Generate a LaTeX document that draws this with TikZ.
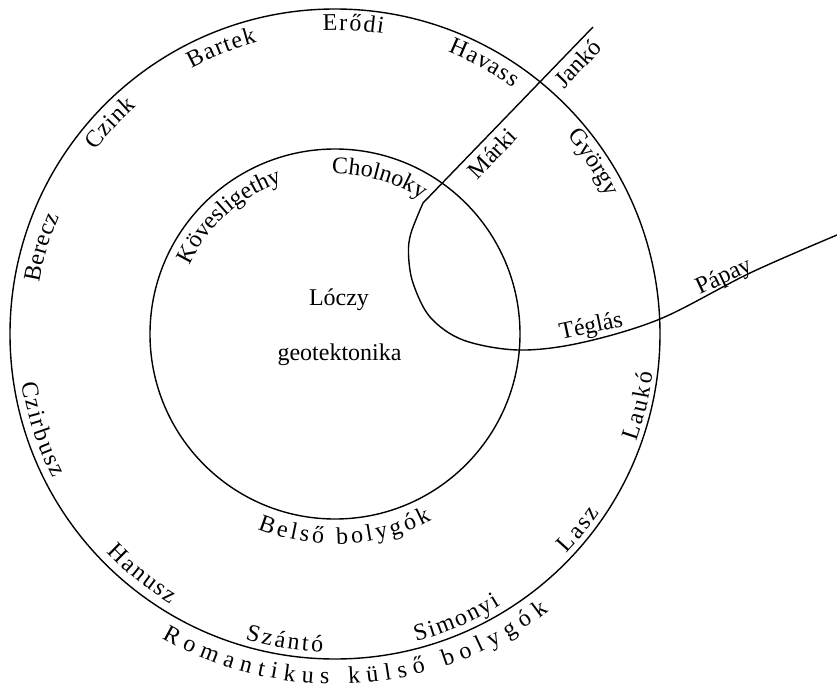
\documentclass[tikz,border=0pt]{standalone}
\usepackage{fontspec}
\setmainfont{Liberation Serif}
\usetikzlibrary{decorations.text}
\newcommand\lbl{\fontsize{24}{28}\selectfont}
% radius, start angle, end angle, text
\newcommand\arclabel[4]{\path[decorate,decoration={text along path,text align={fit to path},text={|\lbl|#4}}] (#2:#1) arc[start angle=#2,end angle=#3,radius=#1];}
\tikzset{
  ring/.style={line width=1.4pt, black},
  wire/.style={line width=1.4pt, black},
  word/.style={font=\lbl, anchor=base, inner sep=0pt}
}
\begin{document}
\begin{tikzpicture}[x=1pt,y=1pt]
\useasboundingbox (-335,-354) rectangle (502,334);
\fill[white] (-335,-354) rectangle (502,334);
\coordinate (O) at (0,0);
% circles
\draw[ring] (O) circle[radius=325];
\draw[ring] (O) circle[radius=185];
% line and loop
\coordinate (top) at (258,307);
\coordinate (bend) at (88,131);
\draw[wire] (top) -- (bend) -- plot[smooth, tension=0.55] coordinates {(88,131) (76,101) (73.5,80) (78,51) (95,17) (128,-6) (183,-16) (245,-9) (325,15) (415,61) (502,99)};
% centre text
\node[word] (loczy) at (4,29) {Lóczy};
\node[word] (geo) at (4.5,-26) {geotektonika};
% labels along the straight line and the curve
\node[word, rotate=46] (janko) at (248.5,265) {Jankó};
\node[word, rotate=46] (marki) at (163,175) {Márki};
\node[word, rotate=12] (teglas) at (257.5,1) {Téglás};
\node[word, rotate=25] (papay) at (391.5,51.4) {Pápay};
% outer ring, upper labels (clockwise)
\arclabel{300}{170.2}{156.9}{Berecz}
\arclabel{302}{142.6}{131.2}{Czink}
\arclabel{302}{118.4}{105.0}{Bartek}
\arclabel{304}{92.3}{80.9}{Erődi}
\arclabel{304}{68.2}{54.1}{Havass}
\arclabel{305}{40.5}{27.5}{György}
% outer ring, lower labels (counter-clockwise)
\arclabel{317}{188.9}{207.1}{Czirbusz}
\arclabel{316}{223.8}{238.7}{Hanusz}
\arclabel{318}{253.6}{267.8}{Szántó}
\arclabel{318}{284.8}{301.4}{Simonyi}
\arclabel{319}{316.6}{326.0}{Lasz}
\arclabel{320}{340.3}{353.0}{Laukó}
\arclabel{350}{240.3}{307.6}{Romantikus külső bolygók}
% inner ring labels
\arclabel{161}{154.7}{109.3}{Kövesligethy}
\arclabel{160}{91.1}{58.2}{Cholnoky}
\arclabel{210}{248.3}{297.4}{Belső bolygók}
\end{tikzpicture}
\end{document}
